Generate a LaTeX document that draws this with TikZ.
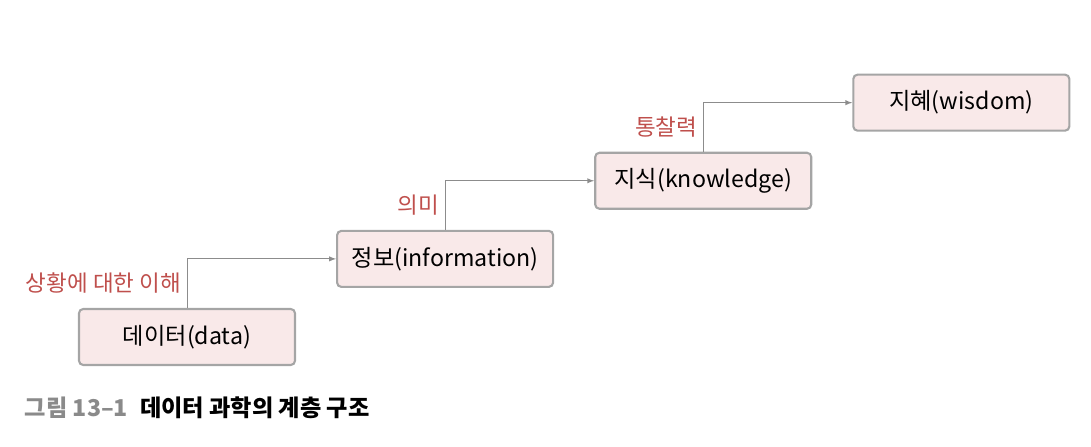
\documentclass[tikz,border=0pt]{standalone}
\usepackage{fontspec}
\setmainfont{Noto Sans CJK KR}
\usepackage{tikz}
\usetikzlibrary{positioning}
\definecolor{boxfill}{HTML}{F9E9E9}
\definecolor{boxline}{HTML}{A5A5A5}
\definecolor{labelred}{HTML}{BF4F4C}
\definecolor{arrowgray}{HTML}{8C8C8C}
\definecolor{capgray}{HTML}{8A8A8A}

\begin{document}
\begin{tikzpicture}[font=\fontsize{16.5}{19}\selectfont, node distance=0.5cm and 1cm,
  box/.style={draw=boxline, fill=boxfill, line width=1.5pt, rounded corners=3pt,
              minimum width=5.4cm, minimum height=1.4cm, align=center},
  lbl/.style={text=labelred, font=\fontsize{16}{18}\selectfont, inner sep=4pt},
  arr/.style={->, >=latex, line width=0.7pt, color=arrowgray}
]
\useasboundingbox (0,0) rectangle (27.275,11.175);
\node[box] (data) at (4.675,2.75) {데이터(data)};
\node[box, above right=of data] (info) {정보(information)};
\node[box, above right=of info] (know) {지식(knowledge)};
\node[box, above right=of know] (wis) {지혜(wisdom)};
\draw[arr] (data) |- (info) node[lbl, pos=0.25, left] (l1) {상황에 대한 이해};
\draw[arr] (info) |- (know) node[lbl, pos=0.25, left] (l2) {의미};
\draw[arr] (know) |- (wis) node[lbl, pos=0.25, left] (l3) {통찰력};
\node[anchor=west, font=\fontsize{16.5}{19}\bfseries] (cap) at (0.5,0.975)
  {\textcolor{capgray}{그림 13–1}\hspace{0.3cm}데이터 과학의 계층 구조};
\end{tikzpicture}
\end{document}
